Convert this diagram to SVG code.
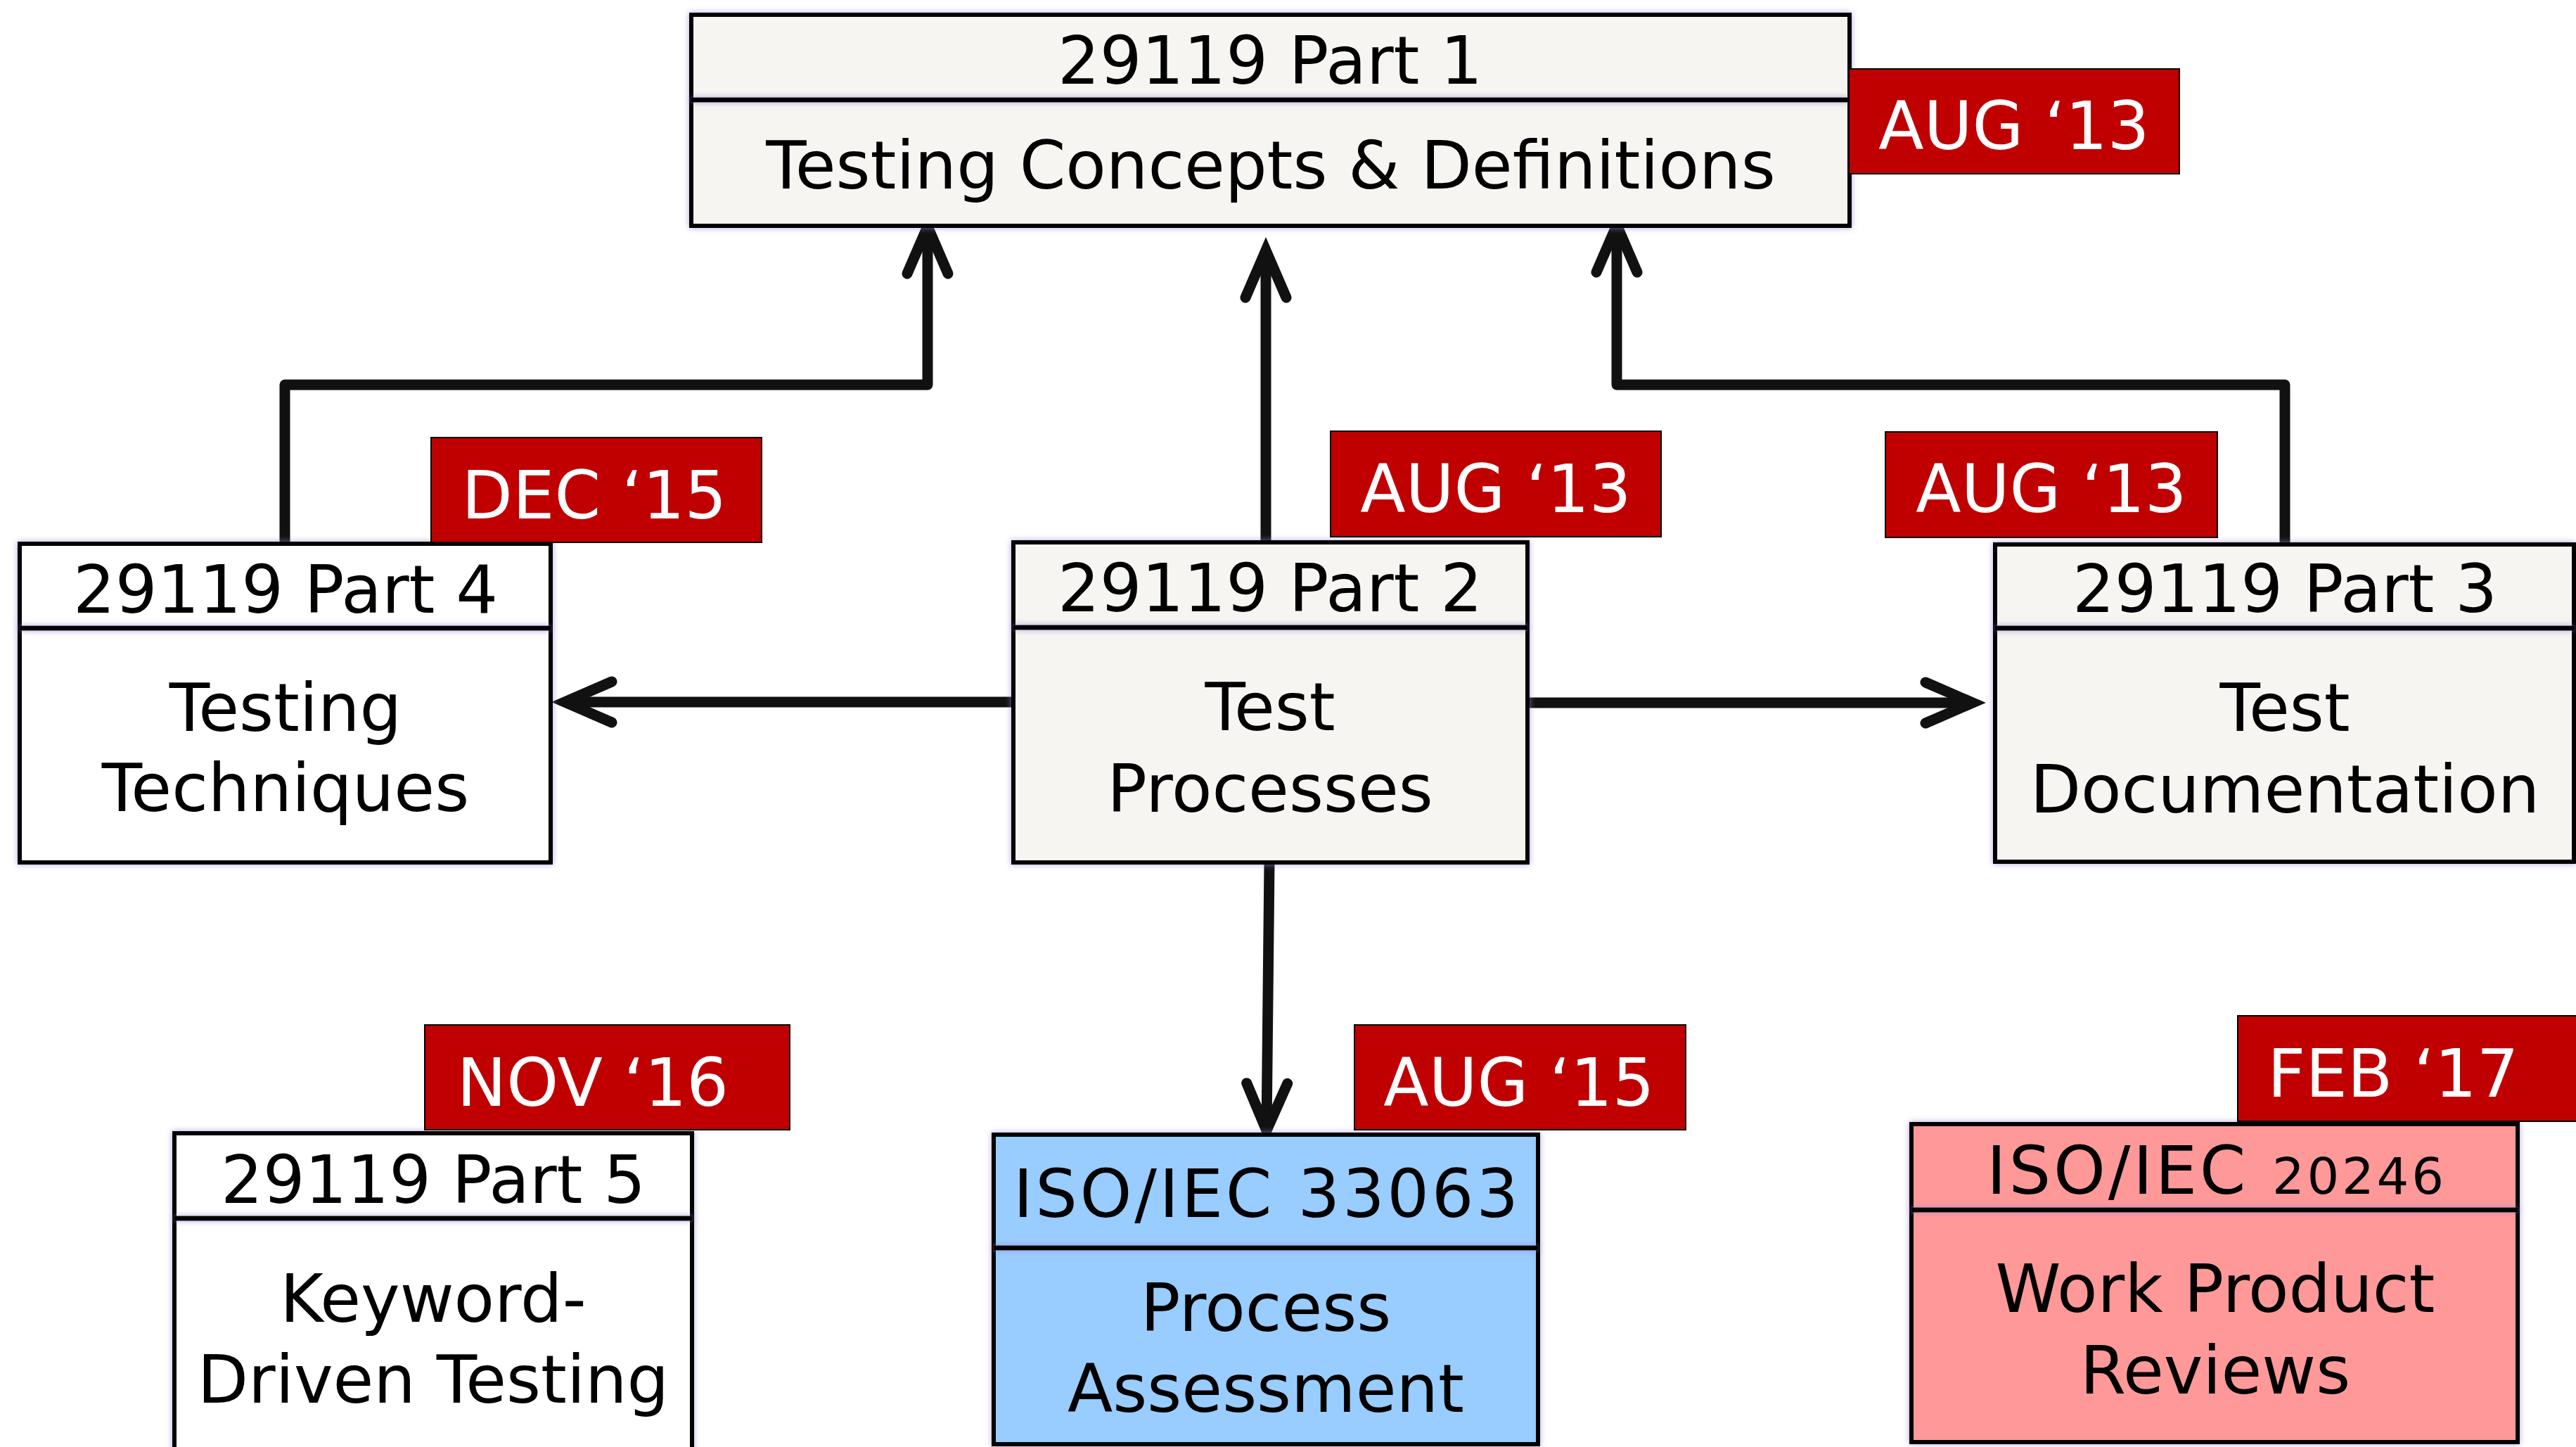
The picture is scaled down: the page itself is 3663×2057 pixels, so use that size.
<svg xmlns="http://www.w3.org/2000/svg" width="3663" height="2057" viewBox="0 0 3663 2057">
<defs>
<style>
.box{stroke:#000;stroke-width:6;filter:url(#glow)}
.div{stroke:#000;stroke-width:7;filter:url(#glow)}
.beige{fill:#F6F5F1}
.white{fill:#FFFFFF}
.blue{fill:#99CCFF}
.pink{fill:#FF9999}
.date{fill:#C00000;stroke:#000;stroke-width:2}
.t{font-family:Verdana,"DejaVu Sans",sans-serif;font-size:94px;fill:#000;text-anchor:middle}
.d{font-family:Verdana,"DejaVu Sans",sans-serif;font-size:94px;fill:#FFF;text-anchor:middle}
.conn{fill:none;stroke:#111;stroke-width:15;stroke-linejoin:round;marker-end:url(#arrow)}
</style>
<filter id="glow" filterUnits="userSpaceOnUse" x="0" y="0" width="3663" height="2057">
<feGaussianBlur in="SourceAlpha" stdDeviation="4" result="b"/>
<feFlood flood-color="#9F85D4" flood-opacity="0.75"/>
<feComposite in2="b" operator="in" result="g"/>
<feMerge><feMergeNode in="g"/><feMergeNode in="SourceGraphic"/></feMerge>
</filter>
<marker id="arrow" markerUnits="userSpaceOnUse" viewBox="-90 -50 120 100" refX="0" refY="0" markerWidth="120" markerHeight="100" orient="auto" overflow="visible">
<path d="M-67,-29 L0,0 L-67,29" fill="none" stroke="#111" stroke-width="15" stroke-linecap="round" stroke-linejoin="miter"/>
</marker>
</defs>
<rect width="3663" height="2057" fill="#FFFFFF"/>

<g id="connectors">
<path class="conn" d="M405,773 V547 H1319 V322"/>
<path class="conn" d="M1800,771 V356"/>
<path class="conn" d="M3249,774 V547 H2299 V320"/>
<path class="conn" d="M1441,998 H803"/>
<path class="conn" d="M2172,999 H2805"/>
<path class="conn" d="M1805,1226 L1801,1607"/>
</g>

<g id="part1">
<rect class="box beige" x="983" y="21" width="1647" height="300"/>
<line class="div" x1="983" y1="142" x2="2630" y2="142"/>
<text class="t" x="1806" y="119">29119 Part 1</text>
<text class="t" x="1807" y="268">Testing Concepts &amp; Definitions</text>
</g>
<g id="date1">
<rect class="date" x="2629" y="98" width="470" height="149"/>
<text class="d" x="2864" y="212">AUG ‘13</text>
</g>

<g id="part4">
<rect class="box white" x="28" y="773" width="755" height="453"/>
<line class="div" x1="28" y1="893" x2="783" y2="893"/>
<text class="t" x="406" y="871">29119 Part 4</text>
<text class="t" x="406" y="1039">Testing</text>
<text class="t" x="406" y="1153">Techniques</text>
</g>
<g id="date4">
<rect class="date" x="613" y="622" width="470" height="149"/>
<text class="d" x="845" y="737">DEC ‘15</text>
</g>

<g id="part2">
<rect class="box beige" x="1441" y="771" width="731" height="455"/>
<line class="div" x1="1441" y1="892" x2="2172" y2="892"/>
<text class="t" x="1806" y="869">29119 Part 2</text>
<text class="t" x="1806" y="1038">Test</text>
<text class="t" x="1806" y="1154">Processes</text>
</g>
<g id="date2">
<rect class="date" x="1892" y="613" width="470" height="150"/>
<text class="d" x="2127" y="728">AUG ‘13</text>
</g>

<g id="part3">
<rect class="box beige" x="2837" y="774" width="823" height="451"/>
<line class="div" x1="2837" y1="893" x2="3660" y2="893"/>
<text class="t" x="3249" y="870">29119 Part 3</text>
<text class="t" x="3249" y="1039">Test</text>
<text class="t" x="3249" y="1155">Documentation</text>
</g>
<g id="date3">
<rect class="date" x="2681" y="614" width="472" height="150"/>
<text class="d" x="2917" y="728">AUG ‘13</text>
</g>

<g id="part5">
<rect class="box white" x="248" y="1611" width="736" height="520"/>
<line class="div" x1="248" y1="1732" x2="984" y2="1732"/>
<text class="t" x="616" y="1710">29119 Part 5</text>
<text class="t" x="616" y="1879">Keyword-</text>
<text class="t" x="616" y="1994">Driven Testing</text>
</g>
<g id="date5">
<rect class="date" x="604" y="1457" width="519" height="149"/>
<text class="d" x="843" y="1572">NOV ‘16</text>
</g>

<g id="iso33063">
<rect class="box blue" x="1413" y="1613" width="774" height="440"/>
<line class="div" x1="1413" y1="1774" x2="2187" y2="1774"/>
<text class="t" x="1800" y="1730" textLength="718" lengthAdjust="spacing">ISO/IEC 33063</text>
<text class="t" x="1800" y="1892">Process</text>
<text class="t" x="1800" y="2007">Assessment</text>
</g>
<g id="date6">
<rect class="date" x="1926" y="1457" width="471" height="149"/>
<text class="d" x="2160" y="1572">AUG ‘15</text>
</g>

<g id="iso20246">
<rect class="box pink" x="2718" y="1598" width="862" height="452"/>
<line class="div" x1="2718" y1="1720" x2="3580" y2="1720"/>
<text class="t" x="3150" y="1697" textLength="650" lengthAdjust="spacing">ISO/IEC <tspan font-size="72">20246</tspan></text>
<text class="t" x="3150" y="1865">Work Product</text>
<text class="t" x="3150" y="1981">Reviews</text>
</g>
<g id="date7">
<rect class="date" x="3182" y="1444" width="500" height="150"/>
<text class="d" x="3403" y="1559">FEB ‘17</text>
</g>
</svg>
